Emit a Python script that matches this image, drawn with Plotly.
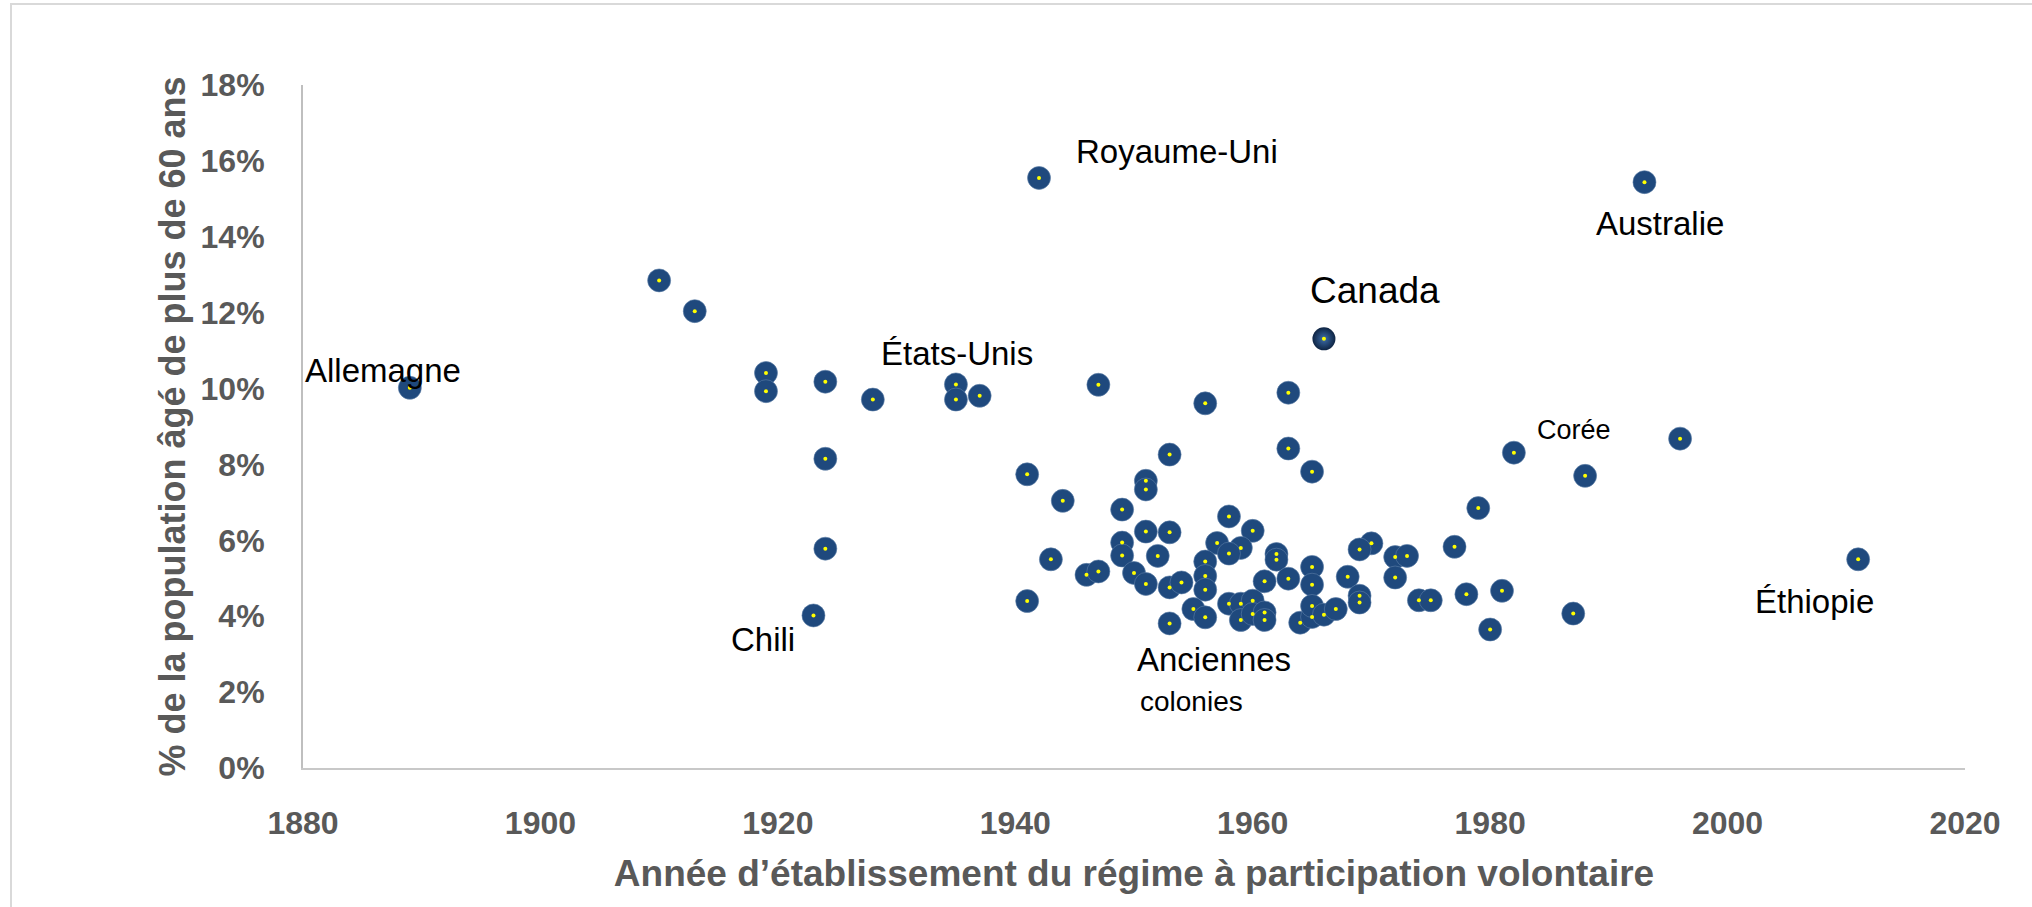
import plotly.graph_objects as go

# Year each voluntary-participation scheme was established, and share of population aged 60+ (%)
years = [1889, 1910, 1913, 1919, 1919, 1924, 1928, 1935, 1935, 1937, 1947, 1924, 1941, 1944,
         1924, 1943, 1946, 1947, 1941, 1923, 1942, 1993, 1956, 1963, 1963, 1965, 1953, 1951,
         1951, 1949, 1951, 1953, 1949, 1958, 1960, 1957, 1959, 1970, 1969, 1958, 1949, 1952,
         1950, 1951, 1953, 1954, 1956, 1956, 1956, 1962, 1962, 1961, 1963, 1965, 1965, 1968,
         1969, 1969, 1972, 1973, 1972, 1974, 1975, 1978, 1981, 1980, 1987, 1953, 1955, 1956,
         1958, 1959, 1960, 1959, 1960, 1961, 1961, 1964, 1965, 1965, 1966, 1967, 1982, 1988,
         1979, 1977, 1996, 2011]
share60 = [10.02, 12.85, 12.04, 10.41, 9.93, 10.18, 9.71, 10.11, 9.71, 9.81, 10.10, 8.15, 7.74, 7.04,
           5.78, 5.50, 5.09, 5.18, 4.40, 4.02, 15.55, 15.44, 9.61, 9.89, 8.42, 7.81, 8.26, 7.57,
           7.34, 6.81, 6.23, 6.21, 5.94, 6.63, 6.25, 5.93, 5.80, 5.92, 5.76, 5.65, 5.60, 5.59,
           5.14, 4.85, 4.76, 4.89, 5.44, 5.06, 4.70, 5.64, 5.49, 4.92, 4.99, 5.30, 4.83, 5.04,
           4.54, 4.36, 5.56, 5.59, 5.02, 4.42, 4.42, 4.58, 4.67, 3.65, 4.07, 3.81, 4.19, 3.97,
           4.33, 4.33, 4.41, 3.90, 4.06, 4.10, 3.90, 3.83, 3.98, 4.27, 4.04, 4.19, 8.31, 7.70,
           6.85, 5.83, 8.68, 5.50]

# Highlighted point: Canada
canada_year = [1966]
canada_share = [11.31]

# Country / group labels
label_text = ["Royaume-Uni", "Australie", "Canada", "États-Unis", "Allemagne", "Corée",
              "Éthiopie", "Chili", "Anciennes", "colonies"]
label_x = [1953.6, 1994.3, 1970.3, 1935.05, 1886.7, 1987.1, 2007.3, 1918.75, 1956.75, 1950.3]
label_y = [16.26, 14.34, 12.58, 10.93, 10.48, 8.91, 4.40, 3.38, 2.85, 1.74]
label_size = [33, 33, 37, 33, 33, 27, 33, 33, 33, 28]
label_anchor = ["center"] * 9 + ["left"]

x_ticks = [1880, 1900, 1920, 1940, 1960, 1980, 2000, 2020]
y_ticks = [0, 2, 4, 6, 8, 10, 12, 14, 16, 18]
y_ticklabels = [f"{v}%" for v in y_ticks]

BLUE = "#1F497D"
GREY_TXT = "#595959"
FONT = "Liberation Sans, Arial, sans-serif"

fig = go.Figure()
fig.add_trace(go.Scatter(
    x=years, y=share60, mode="markers",
    marker=dict(size=23, color=BLUE, line=dict(width=0.6, color="#5E7FA8")),
    hoverinfo="x+y", showlegend=False))
fig.add_trace(go.Scatter(
    x=canada_year, y=canada_share, mode="markers",
    marker=dict(size=23, color="#0E2443", line=dict(width=0),
                gradient=dict(type="radial", color="#3D6DAA")),
    hoverinfo="x+y", showlegend=False))
fig.add_trace(go.Scatter(
    x=years + canada_year, y=share60 + canada_share, mode="markers",
    marker=dict(size=4, color="#FFFF00", line=dict(width=0)),
    hoverinfo="skip", showlegend=False))

for t, x, y, s, a in zip(label_text, label_x, label_y, label_size, label_anchor):
    fig.add_annotation(x=x, y=y, text=t, showarrow=False, xanchor=a, yanchor="middle",
                       font=dict(family=FONT, size=s, color="#000000"))

L, R, T, B = 303, 67, 85, 139
W, H = 2032, 907
pw, ph = W - L - R, H - T - B

# outer chart border (light grey), extends past right/bottom edges
fig.add_shape(type="rect", xref="paper", yref="paper",
              x0=(11 - L) / pw, x1=(W + 10 - L) / pw,
              y0=-(H + 10 - (T + ph)) / ph, y1=1 + (T - 4) / ph,
              line=dict(color="#D9D9D9", width=2), fillcolor="rgba(0,0,0,0)", layer="below")

fig.update_layout(
    width=W, height=H,
    margin=dict(l=L, r=R, t=T, b=B, autoexpand=False),
    paper_bgcolor="white", plot_bgcolor="white",
    font=dict(family=FONT),
)
fig.update_xaxes(
    range=[1880, 2020], tickvals=x_ticks, ticktext=[str(v) for v in x_ticks],
    showgrid=False, zeroline=False, showline=True, linecolor="#C8C8C8", linewidth=2,
    ticks="", ticklabelstandoff=26,
    tickfont=dict(family=FONT, size=32, color=GREY_TXT, weight="bold"),
    title=dict(text="Année d’établissement du régime à participation volontaire",
               font=dict(family=FONT, size=37, color=GREY_TXT, weight="bold"), standoff=20),
    automargin=False,
)
fig.update_yaxes(
    range=[0, 18], tickvals=y_ticks, ticktext=y_ticklabels,
    showgrid=False, zeroline=False, showline=True, linecolor="#BFBFBF", linewidth=2,
    ticks="", ticklabelstandoff=30,
    tickfont=dict(family=FONT, size=32, color=GREY_TXT, weight="bold"),
    title=dict(text="% de la population âgé de plus de 60 ans",
               font=dict(family=FONT, size=36, color=GREY_TXT, weight="bold"), standoff=4),
    automargin=False,
)

fig.write_html("out.html", config={"displayModeBar": False},
               post_script="document.body.style.margin='0';")
